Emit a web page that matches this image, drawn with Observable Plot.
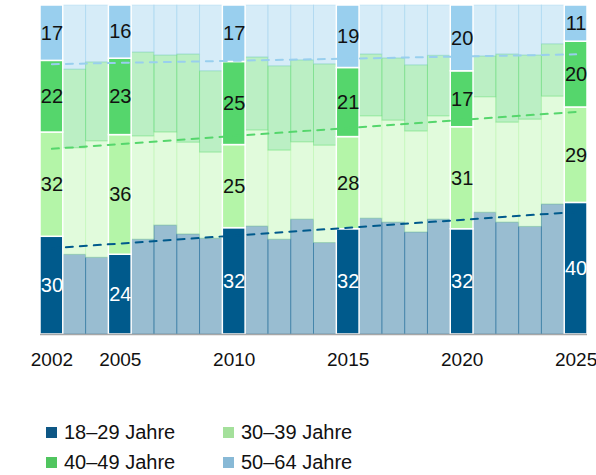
<!DOCTYPE html>
<html><head><meta charset="utf-8">
<script src="https://cdn.jsdelivr.net/npm/d3@7"></script>
<script src="https://cdn.jsdelivr.net/npm/@observablehq/plot@0.6"></script>
<style>
body{margin:0;background:#fff;font-family:"Liberation Sans",Arial,sans-serif;}
#chart svg{overflow:visible}
#legend{display:grid;grid-template-columns:177px 220px;margin-left:46px;margin-top:45px;}
.item{display:flex;align-items:center;height:30px;font-size:20px;color:#111;white-space:nowrap}
.sw{width:11px;height:11px;margin-right:7px;flex:none}
</style></head><body><div id="chart"></div><div id="legend"></div>
<script>
const years = [2002,2003,2004,2005,2006,2007,2008,2009,2010,2011,2012,2013,2014,2015,2016,2017,2018,2019,2020,2021,2022,2023,2024,2025];
const highlightYears = [2002,2005,2010,2015,2020,2025];
const seriesNames = ["18–29 Jahre","30–39 Jahre","40–49 Jahre","50–64 Jahre"];
const barColors = ["#005a8c","#b4f5a8","#55d66c","#99cfee"];
const legendColors = ["#0e5785","#a4e09b","#50c55f","#88b9d6"];
const v1829 = [30,24.2,23.3,24,28.8,33.1,30.4,29.1,32,32.8,28.8,34.9,27.8,32,35.2,34,31,34.9,32,37,34,32.7,39.5,40];
const v3039 = [32,32.4,35.4,36,31.4,28.3,27.9,26.2,25,29.2,27.1,23.5,29.6,28,31.1,31,30.7,31.4,31,35.1,30.4,32.6,32.8,29];
const v4049 = [22,23.9,24.0,23,25.5,23.4,26.8,24.7,25,22.2,25.6,24.9,24.7,21,18.8,18.9,20.1,18.4,17,12.4,20.7,19.5,15.9,20];
const v5064 = [17,19.5,17.3,16,14.3,15.2,14.9,20.0,17,15.8,18.5,16.7,17.9,19,14.9,16.1,18.2,15.3,20,15.5,14.9,15.2,11.8,11];

const seriesArrays = [v1829, v3039, v4049, v5064];
const rows = [];
years.forEach((year, i) => {
  seriesArrays.forEach((arr, j) => rows.push({year, series: seriesNames[j], value: arr[i], hl: highlightYears.includes(year)}));
});
const paleRows = rows.filter(d => !d.hl);
const hlRows = rows.filter(d => d.hl);

// cumulative boundaries (shares) for the trend lines
const trendRows = [];
const boundaryColorIdx = [0, 2, 3];
years.forEach((year, i) => {
  const vals = seriesArrays.map(a => a[i]);
  const total = d3.sum(vals);
  let c = 0;
  for (let k = 0; k < 3; k++) {
    c += vals[k];
    trendRows.push({year, series: seriesNames[boundaryColorIdx[k]], v: c / total});
  }
});

const stackRect = (extra) => Plot.stackY({
  x: "year", x1: d => d.year - 0.5, x2: d => d.year + 0.5,
  y: "value", offset: "normalize", ...extra
});

const chart = Plot.plot({
  width: 596,
  height: 372,
  marginLeft: 40,
  marginRight: 9,
  marginTop: 5,
  marginBottom: 38,
  style: {fontFamily: "'Liberation Sans', Arial, sans-serif", fontSize: "19px", color: "#111", background: "#fff"},
  x: {domain: [2001.5, 2025.5], ticks: highlightYears, tickFormat: d => String(d), tickSize: 0, tickPadding: 18, label: null},
  y: {domain: [0, 1], axis: null},
  color: {domain: seriesNames, range: barColors},
  marks: [
    Plot.rect(paleRows, stackRect({fill: "series", fillOpacity: 0.4, stroke: "series", strokeOpacity: 0.35, strokeWidth: 1})),
    Plot.rect(hlRows, stackRect({fill: "series", stroke: "white", strokeWidth: 1.5})),
    Plot.ruleY([0], {stroke: "#a6a6a6", strokeWidth: 1.5}),
    Plot.linearRegressionY(trendRows, {x: "year", y: "v", stroke: "series", ci: 0, strokeWidth: 2, strokeDasharray: "7,7"}),
    Plot.text(hlRows, Plot.stackY({x: "year", y: "value", offset: "normalize",
      text: d => d.series === seriesNames[0] ? String(d.value) : null, fill: "white", fontSize: 20})),
    Plot.text(hlRows, Plot.stackY({x: "year", y: "value", offset: "normalize",
      text: d => d.series !== seriesNames[0] ? String(d.value) : null, fill: "#111", fontSize: 20}))
  ]
});
document.getElementById("chart").appendChild(chart);

const legend = document.getElementById("legend");
seriesNames.forEach((name, i) => {
  const item = document.createElement("div");
  item.className = "item";
  const sw = document.createElement("span");
  sw.className = "sw";
  sw.style.background = legendColors[i];
  const label = document.createElement("span");
  label.textContent = name;
  item.appendChild(sw);
  item.appendChild(label);
  legend.appendChild(item);
});
</script>
</body></html>
